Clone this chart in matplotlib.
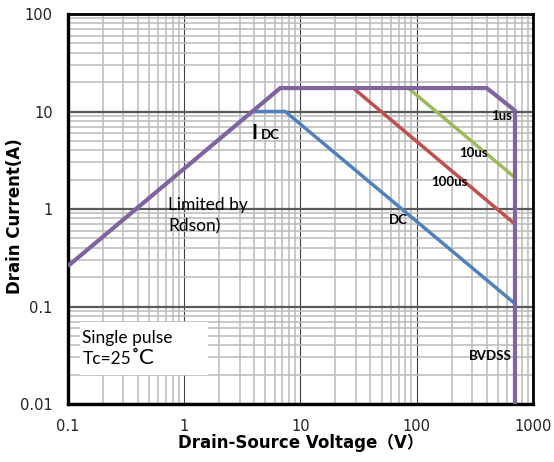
import matplotlib
matplotlib.use("Agg")
import matplotlib.pyplot as plt
from matplotlib.patches import Rectangle
from matplotlib.ticker import LogLocator, FixedLocator, FixedFormatter, NullFormatter

# safe operating area boundaries, drain-source voltage (V) vs drain current (A)
vds_limit = [0.1, 6.7, 400, 700, 700]      # Rdson line, current limit, 1us, BVDSS
id_limit = [0.26, 17.4, 17.4, 10.2, 0.01]

vds_dc = [3.9, 7.4, 700]
id_dc = [10.0, 10.0, 0.107]

vds_100us = [28.4, 700]
id_100us = [17.4, 0.70]

vds_10us = [84.5, 700]
id_10us = [17.4, 2.1]

x_ticks = [0.1, 1, 10, 100, 1000]
x_tick_labels = ["0.1", "1", "10", "100", "1000"]
y_ticks = [0.01, 0.1, 1, 10, 100]
y_tick_labels = ["0.01", "0.1", "1", "10", "100"]

PURPLE = "#8064A2"
BLUE = "#4F81BD"
RED = "#C0504D"
GREEN = "#9BBB59"

fig = plt.figure(figsize=(5.54, 4.62), dpi=100)
ax = fig.add_axes([0.1227, 0.1255, 0.8394, 0.8442])
ax.set_xscale("log")
ax.set_yscale("log")
ax.set_xlim(0.1, 1000)
ax.set_ylim(0.01, 100)

# grid: light minor lines, dark major lines
ax.xaxis.set_minor_locator(LogLocator(base=10, subs=range(2, 10), numticks=20))
ax.yaxis.set_minor_locator(LogLocator(base=10, subs=range(2, 10), numticks=20))
ax.xaxis.set_minor_formatter(NullFormatter())
ax.yaxis.set_minor_formatter(NullFormatter())
ax.grid(which="minor", axis="both", color="#bcbcbc", lw=1.15)
ax.grid(which="major", axis="y", color="#5a5a5a", lw=1.6)
ax.grid(which="major", axis="x", color="#404040", lw=0.8)
ax.set_axisbelow(True)

ax.xaxis.set_major_locator(FixedLocator(x_ticks))
ax.xaxis.set_major_formatter(FixedFormatter(x_tick_labels))
ax.yaxis.set_major_locator(FixedLocator(y_ticks))
ax.yaxis.set_major_formatter(FixedFormatter(y_tick_labels))
ax.tick_params(which="both", length=0)
ax.tick_params(which="major", axis="both", pad=11, labelsize=10.5, labelcolor="#222222")

for name, side in ax.spines.items():
    side.set_linewidth(2.4 if name in ("left", "bottom") else 2.0)
    side.set_color("black")

# white note box over the grid
ax.add_patch(Rectangle((0.026, 0.074), 0.275, 0.136, transform=ax.transAxes,
                       facecolor="white", edgecolor="none", zorder=1.5))

line_kw = dict(solid_capstyle="butt", solid_joinstyle="miter", zorder=3)
ax.plot(vds_dc, id_dc, color=BLUE, lw=2.5, **line_kw)
ax.plot(vds_100us, id_100us, color=RED, lw=2.5, **line_kw)
ax.plot(vds_10us, id_10us, color=GREEN, lw=2.5, **line_kw)
ax.plot(vds_limit, id_limit, color=PURPLE, lw=3.0, **line_kw)

note_font = ["Lato", "DejaVu Sans"]
lab = dict(family=note_font, fontweight="bold", fontsize=9.5, color="black",
           ha="center", va="center", zorder=4)
ax.text(69, 0.77, "DC", **lab)
ax.text(192, 1.89, "100us", **lab)
ax.text(309, 3.75, "10us", **lab)
ax.text(538, 8.9, "1us", **lab)
ax.text(429, 0.031, "BVDSS", **lab)

ax.text(3.8, 5.22, "I", family=note_font, fontweight="bold", fontsize=14.5,
        ha="left", va="baseline", zorder=4)
ax.text(4.55, 5.22, "DC", family=note_font, fontweight="bold", fontsize=9.5,
        ha="left", va="baseline", zorder=4)

ax.text(0.73, 0.85, "Limited by\nRdson)", family=note_font, fontsize=12.5,
        ha="left", va="center", linespacing=1.45, zorder=4)
ax.text(0.133, 0.0475, "Single pulse", family=note_font, fontsize=12.5,
        ha="left", va="center", zorder=4)
ax.text(0.133, 0.0255, "Tc=25", family=note_font, fontsize=12.5,
        ha="left", va="baseline", zorder=4)
ax.text(0.345, 0.0255, "\u02daC", family=note_font, fontsize=16,
        ha="left", va="baseline", zorder=4)

ax.set_xlabel("Drain-Source Voltage\uff08V\uff09", family=["DejaVu Sans", "Noto Sans CJK SC"],
              fontweight="bold", fontsize=12)
ax.set_ylabel("Drain Current(A)", family=["DejaVu Sans", "Noto Sans CJK SC"],
              fontweight="bold", fontsize=12)
ax.xaxis.set_label_coords(0.501, -0.1)
ax.yaxis.set_label_coords(-0.114, 0.482)
ax.xaxis.label.set_va("center")
ax.yaxis.label.set_va("center")

fig.savefig("out.png", dpi=100)
